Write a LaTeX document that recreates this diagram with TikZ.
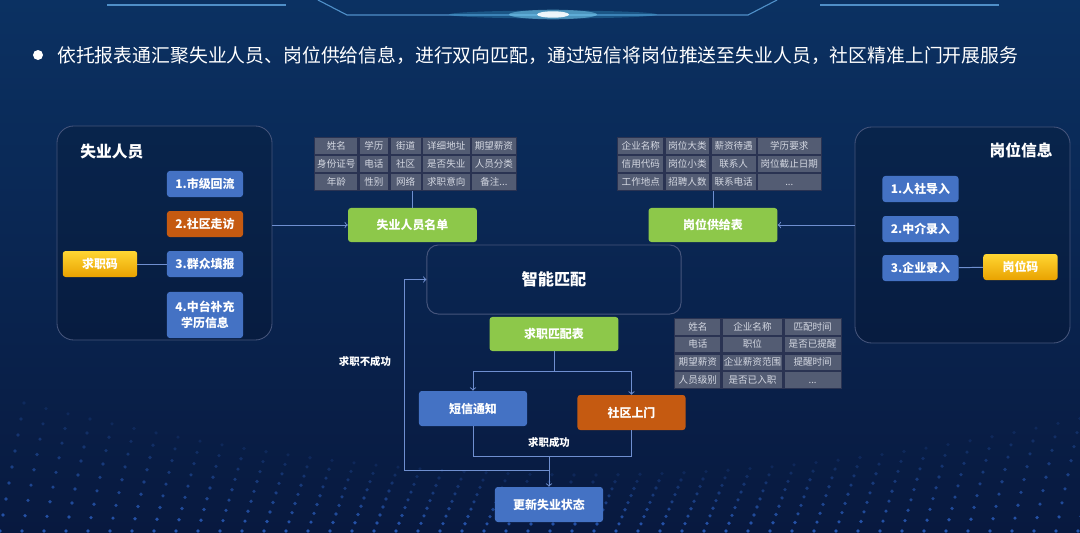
\documentclass[tikz,border=0pt]{standalone}
\usepackage{xcolor}
\usepackage{fontspec}
\setmainfont{Noto Sans CJK SC}
\usetikzlibrary{matrix}

\definecolor{bgtop}{HTML}{0B3162}
\definecolor{bgmid}{HTML}{050B27}
\definecolor{bgbot}{HTML}{08193F}
\definecolor{boxblue}{HTML}{4472C4}
\definecolor{boxorange}{HTML}{C55A11}
\definecolor{boxgreen}{HTML}{8DC84A}
\definecolor{codetop}{HTML}{FFD633}
\definecolor{codebot}{HTML}{E9A200}
\definecolor{linkblue}{HTML}{6F8FD0}
\definecolor{panelline}{HTML}{46557C}
\definecolor{cellgray}{HTML}{535C73}
\definecolor{cellline}{HTML}{2A3352}
\definecolor{celltext}{HTML}{D4D8E2}
\definecolor{topline}{HTML}{4F8FC8}
\definecolor{dotblue}{HTML}{2F66CC}

\begin{document}
\begin{tikzpicture}[x=0.025cm, y=-0.025cm,
  box/.style={rounded corners=2pt, text=white, inner sep=0pt, align=center,
    font=\bfseries\fontsize{8.5}{11}\selectfont},
  bluebox/.style={box, fill=boxblue, minimum width=1.9cm, minimum height=0.65cm},
  orangebox/.style={box, fill=boxorange, minimum width=1.9cm, minimum height=0.65cm},
  codebox/.style={box, top color=codetop, bottom color=codebot, minimum width=1.86cm, minimum height=0.65cm},
  greenbox/.style={box, fill=boxgreen, minimum width=3.22cm, minimum height=0.85cm},
  stagebox/.style={box, minimum width=2.7cm, minimum height=0.875cm},
  panel/.style={draw=panelline, line width=0.6pt, rounded corners=12pt, fill=black, fill opacity=0.15},
  paneltitle/.style={text=white, font=\bfseries\fontsize{11.2}{13}\selectfont, inner sep=0pt},
  matchbox/.style={draw=panelline, line width=0.7pt, rounded corners=8pt, minimum width=6.35cm,
    minimum height=1.725cm, text=white, font=\bfseries\fontsize{11.5}{13}\selectfont},
  link/.style={draw=linkblue, line width=0.7pt},
  note/.style={text=white, font=\bfseries\fontsize{7.4}{9}\selectfont, inner sep=0pt},
  fields/.style={matrix of nodes, column sep=0pt, row sep=0pt, inner sep=0pt,
    nodes={draw=cellline, line width=0.8pt, fill=cellgray, text=celltext, inner sep=0pt,
      anchor=center, text height=5.6pt, text depth=1pt,
      font=\fontsize{6.8}{8}\selectfont, minimum height=0.417cm}}
]
\useasboundingbox (0,0) rectangle (1080,533);
\shade[top color=bgtop, middle color=bgmid, bottom color=bgbot] (0,0) rectangle (1080,533);

% dotted wave at the bottom
\foreach \c in {0,...,49} {
  \foreach \r in {0,...,8} {
    \pgfmathsetmacro{\dx}{\c*22+\r*3}
    \pgfmathsetmacro{\dy}{531-\r*(7+9*((\c*22-560)/560)^2)}
    \pgfmathsetmacro{\op}{0.8-\r*0.08}
    \fill[dotblue, opacity=\op] (\dx,\dy) circle (0.045cm);
  }
}

% top lines and glow
\draw[topline, line width=0.8pt] (107,5) -- (286,5);
\draw[topline, line width=0.8pt] (820,5) -- (999,5);
\draw[topline, line width=0.8pt] (318,0) -- (347,15) -- (748,15) -- (777,0);
\fill[cyan!70!white, opacity=0.25] (553,14.5) ellipse (2.6cm and 0.1cm);
\fill[cyan!50!white, opacity=0.5] (553,14.5) ellipse (1.1cm and 0.12cm);
\fill[white, opacity=0.9] (553,14.5) ellipse (0.4cm and 0.08cm);

% header
\node[circle, fill=white, minimum size=0.25cm, inner sep=0pt] (bullet) at (38,55) {};
\node[anchor=west, text=white, inner sep=0pt, font=\fontsize{13.4}{16}\selectfont] (headline) at (57,55)
  {依托报表通汇聚失业人员、岗位供给信息，进行双向匹配，通过短信将岗位推送至失业人员，社区精准上门开展服务};

% left panel
\node[panel, minimum width=5.375cm, minimum height=5.35cm] (seekpanel) at (164.5,233) {};
\node[paneltitle, anchor=west] (seektitle) at (80,152) {失业人员};
\node[bluebox] (src1) at (205,184) {1.市级回流};
\node[orangebox] (src2) at (205,224) {2.社区走访};
\node[bluebox] (src3) at (205,264) {3.群众填报};
\node[bluebox, minimum height=1.15cm] (src4) at (205,315) {4.中台补充\\学历信息};
\node[codebox] (seekcode) at (100,264) {求职码};
\draw[link] (seekcode) -- (src3);

% right panel
\node[panel, minimum width=5.375cm, minimum height=5.4cm] (jobpanel) at (962.5,235) {};
\node[paneltitle, anchor=east] (jobtitle) at (1053,150) {岗位信息};
\node[bluebox] (job1) at (920.5,189) {1.人社导入};
\node[bluebox] (job2) at (920.5,229) {2.中介录入};
\node[bluebox] (job3) at (920.5,268) {3.企业录入};
\node[codebox] (jobcode) at (1020.5,267) {岗位码};
\draw[link] (job3) -- (jobcode);

% lists and their fields
\node[greenbox] (seeklist) at (412.5,225) {失业人员名单};
\node[greenbox] (joblist) at (713,225) {岗位供给表};
\draw[link, ->] (seekpanel.east |- seeklist) -- (seeklist);
\draw[link, ->] (jobpanel.west |- joblist) -- (joblist);

\matrix[fields, anchor=north west,
  column 1/.style={nodes={minimum width=1.075cm}},
  column 2/.style={nodes={minimum width=0.75cm}},
  column 3/.style={nodes={minimum width=0.775cm}},
  column 4/.style={nodes={minimum width=1.2cm}},
  column 5/.style={nodes={minimum width=1.125cm}}] (seekfields) at (314,137) {
  姓名 & 学历 & 街道 & 详细地址 & 期望薪资 \\
  身份证号 & 电话 & 社区 & 是否失业 & 人员分类 \\
  年龄 & 性别 & 网络 & 求职意向 & 备注... \\
};
\matrix[fields, anchor=north west,
  column 1/.style={nodes={minimum width=1.15cm}},
  column 2/.style={nodes={minimum width=1.125cm}},
  column 3/.style={nodes={minimum width=1.125cm}},
  column 4/.style={nodes={minimum width=1.6cm}}] (jobfields) at (617,137) {
  企业名称 & 岗位大类 & 薪资待遇 & 学历要求 \\
  信用代码 & 岗位小类 & 联系人 & 岗位截止日期 \\
  工作地点 & 招聘人数 & 联系电话 & ... \\
};
\draw[link] (seekfields.south -| seeklist) -- (seeklist);
\draw[link] (jobfields.south -| joblist) -- (joblist);

% matching
\node[matchbox] (match) at (554,279.5) {智能匹配};
\node[greenbox] (matchlist) at (554,334) {求职匹配表};
\matrix[fields, anchor=north west,
  nodes={minimum height=0.4125cm},
  column 1/.style={nodes={minimum width=1.15cm}},
  column 2/.style={nodes={minimum width=1.525cm}},
  column 3/.style={nodes={minimum width=1.425cm}}] (matchfields) at (674,318) {
  姓名 & 企业名称 & 匹配时间 \\
  电话 & 职位 & 是否已提醒 \\
  期望薪资 & 企业薪资范围 & 提醒时间 \\
  人员级别 & 是否已入职 & ... \\
};

\coordinate (fork) at (554,371);
\node[stagebox, fill=boxblue] (sms) at (473,408.5) {短信通知};
\node[stagebox, fill=boxorange] (visit) at (631.5,412.5) {社区上门};
\draw[link] (matchlist) -- (fork);
\draw[link, ->] (fork) -| (sms);
\draw[link, ->] (fork) -| (visit);

\coordinate (merge) at (549,456);
\coordinate (retry) at (549,470);
\node[stagebox, fill=boxblue] (update) at (549,504.5) {更新失业状态};
\draw[link] (sms) |- (merge);
\draw[link] (visit) |- (merge);
\draw[link, ->] (merge) -- (update);
\draw[link, ->] (retry) -| ([xshift=-0.55cm]match.west) -- (match.west);

\node[note] (success) at (549,443) {求职成功};
\node[note] (fail) at (365,362) {求职不成功};
\end{tikzpicture}
\end{document}
